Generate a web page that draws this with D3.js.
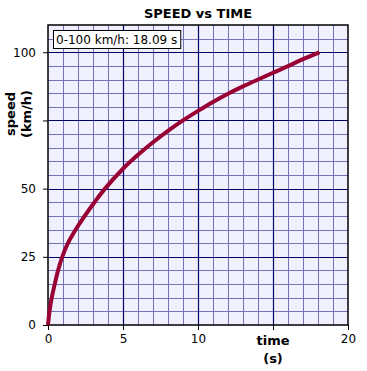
<!DOCTYPE html>
<html>
<head>
<meta charset="utf-8">
<script src="https://cdn.jsdelivr.net/npm/d3@7"></script>
<style>
  body { margin: 0; background: #fff; }
  svg text { font-family: "DejaVu Sans", Verdana, sans-serif; }
</style>
</head>
<body>
<div id="chart"></div>
<script>
// speed curve
var times  = [0, 0.1, 0.25, 0.45, 0.67, 0.95, 1.33, 1.85, 2.45, 3.1, 3.8, 5, 6, 7, 8, 9, 10, 11, 12, 13, 14, 15, 16, 17, 18.09];
var speeds = [0, 5, 10, 15, 20, 25, 30, 35, 40, 45, 50, 57.3, 62.4, 67, 71.2, 75, 78.5, 81.8, 84.8, 87.5, 90, 92.5, 94.9, 97.5, 100];

var xMajor = [0, 5, 10, 15, 20];
var yMajor = [0, 25, 50, 75, 100];
var xLabels = ["0", "5", "10", "", "20"];
var yLabels = ["0", "25", "50", "", "100"];
var legendText = "0-100 km/h: 18.09 s";

var width = 367, height = 371;
var margin = {top: 25, right: 19, bottom: 46, left: 48};
var w = width - margin.left - margin.right,
    h = height - margin.top - margin.bottom;

var svg = d3.select("#chart").append("svg")
  .attr("width", width)
  .attr("height", height);

var g = svg.append("g")
  .attr("transform", "translate(" + margin.left + "," + margin.top + ")");

var x = d3.scaleLinear().domain([0, 20]).range([0, w]);
var y = d3.scaleLinear().domain([0, 110]).range([h, 0]);

var px = v => Math.round(v) + 0.5;

g.append("rect")
  .attr("width", w).attr("height", h)
  .attr("fill", "#f0f0ff");

// minor grid
g.selectAll("line.vmin")
  .data(d3.range(1, 20))
  .enter().append("line")
  .attr("x1", d => px(x(d))).attr("x2", d => px(x(d)))
  .attr("y1", 0).attr("y2", h)
  .attr("stroke", "#7373b5").attr("stroke-width", 1);

g.selectAll("line.hmin")
  .data(d3.range(5, 110, 5))
  .enter().append("line")
  .attr("x1", 0).attr("x2", w)
  .attr("y1", d => px(y(d))).attr("y2", d => px(y(d)))
  .attr("stroke", "#7373b5").attr("stroke-width", 1);

// major grid
g.selectAll("line.vmaj")
  .data(xMajor.slice(1, -1))
  .enter().append("line")
  .attr("x1", d => px(x(d))).attr("x2", d => px(x(d)))
  .attr("y1", 0).attr("y2", h)
  .attr("stroke", "#000066").attr("stroke-width", 1.2);

g.selectAll("line.hmaj")
  .data(yMajor.slice(1))
  .enter().append("line")
  .attr("x1", 0).attr("x2", w)
  .attr("y1", d => px(y(d))).attr("y2", d => px(y(d)))
  .attr("stroke", "#000066").attr("stroke-width", 1.2);

// axes
var xAxis = d3.axisBottom(x).tickValues(xMajor)
  .tickFormat((d, i) => xLabels[i]).tickSize(5).tickPadding(4);
var yAxis = d3.axisLeft(y).tickValues(yMajor)
  .tickFormat((d, i) => yLabels[i]).tickSize(5).tickPadding(7);

g.append("g").attr("transform", "translate(0," + h + ")").call(xAxis)
  .call(a => a.select(".domain").remove())
  .selectAll("text").attr("font-size", 12).attr("fill", "#000");
g.append("g").call(yAxis)
  .call(a => a.select(".domain").remove())
  .selectAll("text").attr("font-size", 12).attr("fill", "#000");

// frame
g.append("rect")
  .attr("width", w).attr("height", h)
  .attr("fill", "none").attr("stroke", "#000").attr("stroke-width", 1.5);

// curve
var line = d3.line()
  .x((d, i) => x(times[i]))
  .y(d => y(d))
  .curve(d3.curveCatmullRom.alpha(0.5));

g.append("path")
  .datum(speeds)
  .attr("d", line)
  .attr("fill", "none")
  .attr("stroke", "#990033")
  .attr("stroke-width", 4);

// legend box
var lg = g.append("g").attr("transform", "translate(5,5)");
var lt = lg.append("text")
  .attr("x", 3).attr("y", 14)
  .attr("font-size", 12)
  .text(legendText);
var bb = lt.node().getBBox();
lg.insert("rect", "text")
  .attr("x", 0.5).attr("y", 0.5)
  .attr("width", bb.width + 6).attr("height", 18)
  .attr("fill", "#fff").attr("stroke", "#000");

// title and axis labels
svg.append("text")
  .attr("x", margin.left + w / 2).attr("y", 18)
  .attr("text-anchor", "middle")
  .attr("font-size", 13).attr("font-weight", "bold")
  .text("SPEED vs TIME");

var yl = svg.append("text")
  .attr("transform", "translate(15,114) rotate(-90)")
  .attr("text-anchor", "middle")
  .attr("font-size", 13).attr("font-weight", "bold");
yl.append("tspan").attr("x", 0).attr("dy", 0).text("speed");
yl.append("tspan").attr("x", 0).attr("dy", 16).text("(km/h)");

var xl = svg.append("text")
  .attr("text-anchor", "middle")
  .attr("font-size", 13).attr("font-weight", "bold");
xl.append("tspan").attr("x", margin.left + x(15)).attr("y", 345).text("time");
xl.append("tspan").attr("x", margin.left + x(15)).attr("y", 363).text("(s)");
</script>
</body>
</html>
